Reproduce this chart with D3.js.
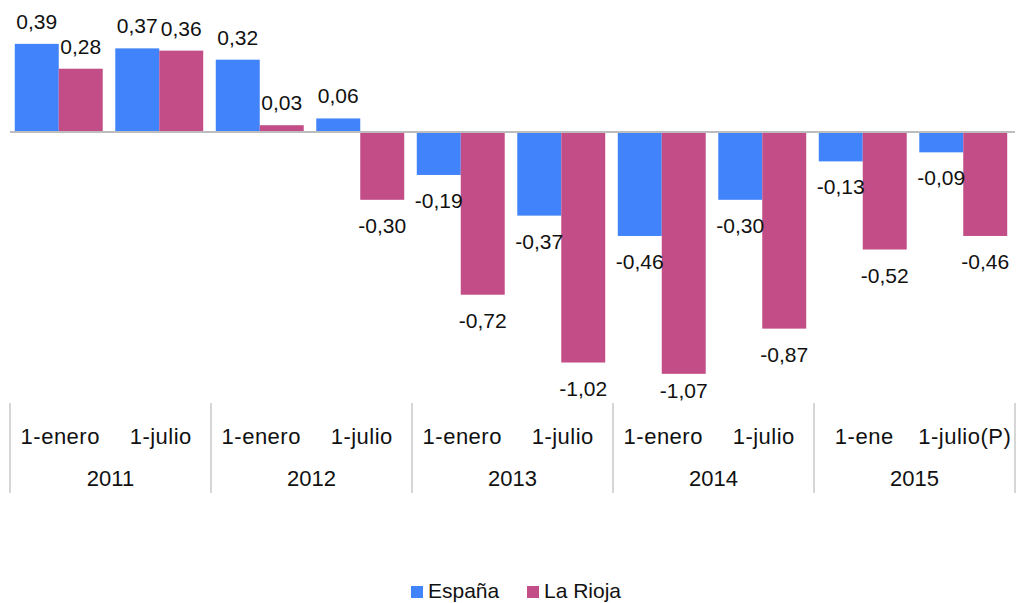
<!DOCTYPE html>
<html>
<head>
	<meta charset="utf-8">
	<title>España vs La Rioja</title>
	<script src="https://d3js.org/d3.v7.min.js"></script>
	<style>
		body { margin: 0; background: #fff; }
		text { font-family: "Liberation Sans", Arial, Helvetica, sans-serif; fill: #111; }
	</style>
</head>
<body>
<script>
	// chart values
	var categories = ['1-enero', '1-julio', '1-enero', '1-julio', '1-enero', '1-julio', '1-enero', '1-julio', '1-ene', '1-julio(P)'];
	var years = ['2011', '2012', '2013', '2014', '2015'];
	var seriesNames = ['España', 'La Rioja'];
	var espana = [0.39, 0.37, 0.32, 0.06, -0.19, -0.37, -0.46, -0.30, -0.13, -0.09];
	var rioja = [0.28, 0.36, 0.03, -0.30, -0.72, -1.02, -1.07, -0.87, -0.52, -0.46];
	var colors = ['#4183fa', '#c24d87'];

	var width = 1017, height = 603;
	var svg = d3.select('body').append('svg')
		.attr('width', width)
		.attr('height', height);

	var idx = d3.range(categories.length);
	var x0 = d3.scaleBand()
		.domain(idx)
		.range([10, 1015])
		.paddingInner(0.125)
		.paddingOuter(0.0625);
	var step = x0.step();
	var x1 = d3.scaleBand()
		.domain(seriesNames)
		.range([-1.5, x0.bandwidth() - 1.5]);
	var y = d3.scaleLinear()
		.domain([-1.1, 0.4])
		.range([132 + 1.1 * 226, 132 - 0.4 * 226]);

	var rows = idx.map(function(i) {
		return [
			{ s: 'España', v: espana[i], i: i, c: colors[0] },
			{ s: 'La Rioja', v: rioja[i], i: i, c: colors[1] }
		];
	});

	var groups = svg.selectAll('.grp')
		.data(rows)
		.enter().append('g')
		.attr('class', 'grp')
		.attr('transform', function(d, i) { return 'translate(' + x0(i) + ',0)'; });

	groups.selectAll('rect')
		.data(function(d) { return d; })
		.enter().append('rect')
		.attr('x', function(d) { return x1(d.s); })
		.attr('width', x1.bandwidth())
		.attr('y', function(d) { return y(Math.max(0, d.v)); })
		.attr('height', function(d) { return Math.abs(y(d.v) - y(0)); })
		.attr('fill', function(d) { return d.c; });

	// labels outside the bar end, kept above the category axis
	groups.selectAll('.lbl')
		.data(function(d) { return d; })
		.enter().append('text')
		.attr('class', 'lbl')
		.attr('text-anchor', 'middle')
		.attr('font-size', 21)
		.attr('x', function(d) { return x1(d.s) + x1.bandwidth() / 2; })
		.attr('y', function(d) { return d.v >= 0 ? y(d.v) - 15 : Math.min(y(d.v) + 33, 398); })
		.text(function(d) { return d3.format('.2f')(d.v).replace('.', ',').replace('−', '-'); });

	// zero line
	svg.append('line')
		.attr('x1', 10).attr('x2', 1015)
		.attr('y1', y(0)).attr('y2', y(0))
		.attr('stroke', '#bdbdbd')
		.attr('stroke-width', 2);

	// category axis
	svg.selectAll('.cat')
		.data(categories)
		.enter().append('text')
		.attr('class', 'cat')
		.attr('text-anchor', 'middle')
		.attr('font-size', 22)
		.attr('letter-spacing', 0.5)
		.attr('x', function(d, i) { return 10 + step * (i + 0.5); })
		.attr('y', 444)
		.text(function(d) { return d; });

	svg.selectAll('.yr')
		.data(years)
		.enter().append('text')
		.attr('class', 'yr')
		.attr('text-anchor', 'middle')
		.attr('font-size', 22)
		.attr('x', function(d, i) { return 10 + step * (2 * i + 1); })
		.attr('y', 486)
		.text(function(d) { return d; });

	svg.selectAll('.sep')
		.data(d3.range(years.length + 1))
		.enter().append('line')
		.attr('class', 'sep')
		.attr('x1', function(d) { return 10 + step * 2 * d; })
		.attr('x2', function(d) { return 10 + step * 2 * d; })
		.attr('y1', 403).attr('y2', 493)
		.attr('stroke', '#c8c8c8')
		.attr('stroke-width', 1.5);

	// legend
	var legX = [411, 527];
	var leg = svg.selectAll('.leg')
		.data(seriesNames)
		.enter().append('g')
		.attr('class', 'leg')
		.attr('transform', function(d, i) { return 'translate(' + legX[i] + ',586)'; });
	leg.append('rect')
		.attr('width', 12).attr('height', 12)
		.attr('fill', function(d, i) { return colors[i]; });
	leg.append('text')
		.attr('x', 17)
		.attr('y', 12)
		.attr('font-size', 21)
		.text(function(d) { return d; });
</script>
</body>
</html>
